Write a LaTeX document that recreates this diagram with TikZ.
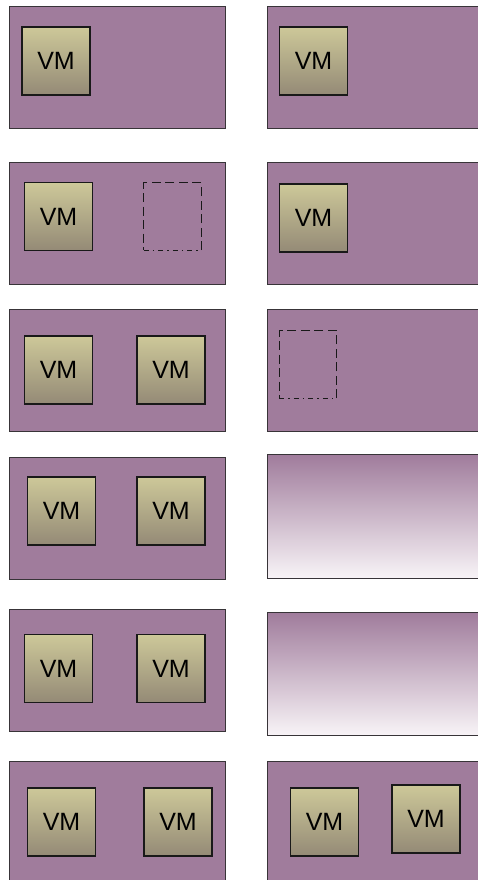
\documentclass[tikz,border=0pt]{standalone}
\usepackage{fontspec}
\setmainfont{Liberation Sans}
\usepackage{tikz}
\usetikzlibrary{calc}
\definecolor{hostbg}{HTML}{A07C9C}
\definecolor{hostln}{HTML}{383438}
\definecolor{vmtop}{HTML}{CDC899}
\definecolor{vmbot}{HTML}{948A76}
\definecolor{fade}{HTML}{F8F4F7}
\tikzset{
  host/.style={draw=hostln,fill=hostbg,line width=1.3pt,anchor=north west,
    minimum width=216pt,minimum height=122pt,inner sep=0pt},
  hostfade/.style={host,fill=none,top color=hostbg,bottom color=fade},
  vm/.style={draw=black!90,line width=1.2pt,top color=vmtop,bottom color=vmbot,
    minimum width=68pt,minimum height=68pt,inner sep=0pt,
    font=\fontsize{25}{29}\selectfont},
  ghostbox/.style={draw=none,minimum width=57pt,minimum height=67pt,inner sep=0pt},
  ghostline/.style={black!90,line width=1.2pt,dash pattern=on 9pt off 4.5pt},
  ghostdot/.style={black!90,line width=1.2pt,dash pattern=on 5pt off 4pt on 1.5pt off 4pt},
}
\newcommand{\ghostat}[3]{%
  \node[ghostbox] (#1) at (#2,#3) {};
  \draw[ghostline] (#1.south east) -- (#1.north east) -- (#1.north west) -- (#1.south west);
  \draw[ghostdot] (#1.south west) -- (#1.south east);
}

\begin{document}
\begin{tikzpicture}[x=1pt,y=-1pt]
\useasboundingbox (0,0) rectangle (478,880);
\clip (0,0) rectangle (478,880);
% hosts, left column
\node[host] (hostLa) at (9,6) {};
\node[host] (hostLb) at (9,162) {};
\node[host] (hostLc) at (9,309) {};
\node[host] (hostLd) at (9,457) {};
\node[host] (hostLe) at (9,609) {};
\node[host,minimum height=140pt] (hostLf) at (9,761) {};
% hosts, right column
\node[host] (hostRa) at (267,6) {};
\node[host] (hostRb) at (267,162) {};
\node[host] (hostRc) at (267,309) {};
\node[hostfade,minimum height=124pt] (hostRd) at (267,454) {};
\node[hostfade,minimum height=123pt] (hostRe) at (267,612) {};
\node[host,minimum height=140pt] (hostRf) at (267,761) {};
% virtual machines
\node[vm] (vmLa) at (56,61) {VM};
\node[vm] (vmRa) at (313.5,61) {VM};
\node[vm] (vmLb) at (58.5,216.5) {VM};
\ghostat{ghostLb}{172.5}{216.5}
\node[vm] (vmRb) at (313.5,218) {VM};
\node[vm] (vmLc) at (58.5,370) {VM};
\node[vm] (vmLcc) at (171,370) {VM};
\ghostat{ghostRc}{308}{364.5}
\node[vm] (vmLd) at (61.5,511) {VM};
\node[vm] (vmLdd) at (171,511) {VM};
\node[vm] (vmLe) at (58.5,668.5) {VM};
\node[vm] (vmLee) at (171,668.5) {VM};
\node[vm] (vmLf) at (61.5,822) {VM};
\node[vm] (vmLff) at (178,822) {VM};
\node[vm] (vmRf) at (324.5,822) {VM};
\node[vm] (vmRff) at (426,819) {VM};
\end{tikzpicture}
\end{document}
